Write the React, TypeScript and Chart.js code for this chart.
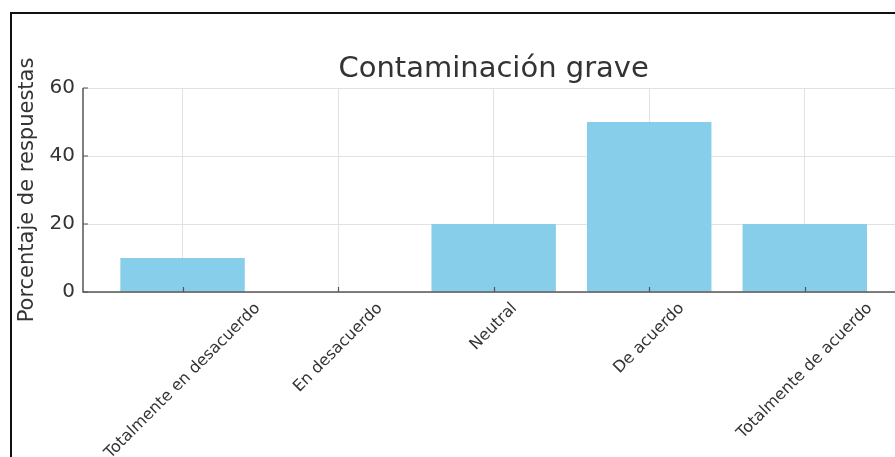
import React, { useEffect, useRef } from "react";
import { Chart, registerables } from "chart.js";

Chart.register(...registerables);

const categories = [
  "Totalmente en desacuerdo",
  "En desacuerdo",
  "Neutral",
  "De acuerdo",
  "Totalmente de acuerdo",
];
const values = [10, 0, 20, 50, 20];
const yTicks = [0, 20, 40, 60];
const chartTitle = "Contaminación grave";
const yAxisTitle = "Porcentaje de respuestas";

const FONT = "'DejaVu Sans', sans-serif";
const TEXT = "#333333";
const SPINE = "#555555";
const GRID = "#e2e2e2";
const BAR = "#87ceeb";

export default function App() {
  const ref = useRef<HTMLCanvasElement>(null);

  useEffect(() => {
    const canvas = ref.current;
    if (!canvas) return;

    const framePlugin = {
      id: "frame",
      afterDraw(chart: any) {
        const ctx = chart.ctx;
        ctx.save();
        ctx.fillStyle = "#111111";
        ctx.fillRect(10, 12, chart.width - 10, 2);
        ctx.fillRect(10, 12, 2, chart.height - 12);
        ctx.restore();
      },
    };

    const decorPlugin = {
      id: "decor",
      afterDatasetsDraw(chart: any) {
        const { ctx, chartArea, scales } = chart;
        const xs = scales.x;
        const ys = scales.y;
        ctx.save();
        ctx.strokeStyle = SPINE;
        ctx.lineWidth = 1.5;
        ctx.beginPath();
        ctx.moveTo(chartArea.left, chartArea.top);
        ctx.lineTo(chartArea.left, chartArea.bottom);
        ctx.lineTo(chartArea.right, chartArea.bottom);
        ctx.stroke();
        ctx.lineWidth = 1.2;
        ctx.beginPath();
        categories.forEach((_, i) => {
          const px = Math.round(xs.getPixelForValue(i)) + 0.5;
          ctx.moveTo(px, chartArea.bottom);
          ctx.lineTo(px, chartArea.bottom - 5);
        });
        yTicks.forEach((v) => {
          const py = ys.getPixelForValue(v);
          ctx.moveTo(chartArea.left, py);
          ctx.lineTo(chartArea.left + 5, py);
        });
        ctx.stroke();
        ctx.restore();
      },
      afterDraw(chart: any) {
        const { ctx, chartArea, scales } = chart;
        const xs = scales.x;
        ctx.save();
        // Title
        ctx.fillStyle = TEXT;
        ctx.font = `29px ${FONT}`;
        ctx.textAlign = "center";
        ctx.textBaseline = "alphabetic";
        const cx = xs.getPixelForValue((categories.length - 1) / 2);
        ctx.fillText(chartTitle, cx, 77);
        // Rotated category labels, bounding box centered on tick
        const fs = 16;
        ctx.font = `${fs}px ${FONT}`;
        ctx.textBaseline = "middle";
        categories.forEach((label, i) => {
          const px = xs.getPixelForValue(i);
          const w = ctx.measureText(label).width;
          const h = fs * 0.85;
          const half = ((w + h) * Math.SQRT1_2) / 2;
          const py = chartArea.bottom + 9 + half;
          ctx.save();
          ctx.translate(px, py);
          ctx.rotate(-Math.PI / 4);
          ctx.fillText(label, 0, 0);
          ctx.restore();
        });
        ctx.restore();
      },
    };

    const chart = new Chart(canvas, {
      type: "bar",
      data: {
        datasets: [
          {
            data: values.map((v, i) => ({ x: i, y: v })),
            backgroundColor: BAR,
            borderWidth: 0,
            categoryPercentage: 1,
            barPercentage: 0.8,
          },
        ],
      },
      options: {
        animation: false,
        responsive: false,
        devicePixelRatio: 1,
        layout: { padding: { top: 88, bottom: 165, left: 0, right: 0 } },
        plugins: {
          legend: { display: false },
          tooltip: { enabled: false },
          title: { display: false },
        },
        scales: {
          x: {
            type: "linear",
            offset: false,
            min: -0.64,
            max: 4.58,
            ticks: { display: false },
            grid: { color: GRID, lineWidth: 1, drawTicks: false, offset: false },
            border: { display: false },
            afterBuildTicks(s: any) {
              s.ticks = categories.map((_, i) => ({ value: i }));
            },
            afterFit(s: any) {
              s.height = 0;
            },
          },
          y: {
            min: 0,
            max: 60,
            afterBuildTicks(s: any) {
              s.ticks = yTicks.map((v) => ({ value: v }));
            },
            ticks: {
              font: { family: FONT, size: 20 },
              color: TEXT,
              padding: 8,
            },
            grid: { color: GRID, lineWidth: 1, drawTicks: false },
            border: { display: false },
            title: {
              display: true,
              text: yAxisTitle,
              font: { family: FONT, size: 21 },
              color: TEXT,
              padding: { top: 15, bottom: 0 },
            },
            afterFit(s: any) {
              s.width = 83;
            },
          },
        },
      },
      plugins: [decorPlugin, framePlugin],
    });

    return () => chart.destroy();
  }, []);

  return (
    <div
      style={{
        position: "fixed",
        left: 0,
        top: 0,
        width: 895,
        height: 457,
        overflow: "hidden",
        background: "#ffffff",
      }}
    >
      <canvas ref={ref} width={895} height={457} style={{ display: "block" }} />
    </div>
  );
}
